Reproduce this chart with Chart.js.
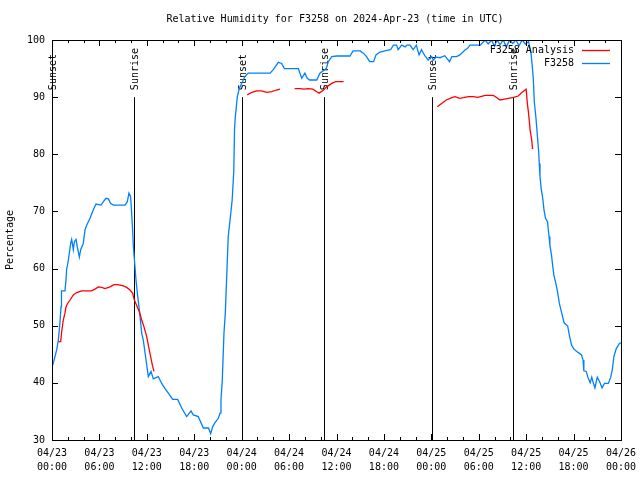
<!DOCTYPE html>
<html>
<head>
<meta charset="utf-8">
<script src="https://cdn.jsdelivr.net/npm/chart.js@4.4.1/dist/chart.umd.min.js"></script>
<style>
  html, body { margin: 0; padding: 0; background: #fff; }
  #wrap { width: 640px; height: 480px; }
</style>
</head>
<body>
<div id="wrap"><canvas id="rh"></canvas></div>
<script>
/* ── Dati (ore dalle 04/23 00:00 UTC) ─────────────── */
var chartTitle = 'Relative Humidity for F3258 on 2024-Apr-23 (time in UTC)';
var yTitle     = 'Percentage';

var tickDates = ['04/23', '04/23', '04/23', '04/23', '04/24', '04/24', '04/24', '04/24',
                 '04/25', '04/25', '04/25', '04/25', '04/26'];
var tickTimes = ['00:00', '06:00', '12:00', '18:00', '00:00', '06:00', '12:00', '18:00',
                 '00:00', '06:00', '12:00', '18:00', '00:00'];

var eventHours  = [0.05, 10.42, 24.08, 34.46, 48.05, 58.38];
var eventLabels = ['Sunset', 'Sunrise', 'Sunset', 'Sunrise', 'Sunset', 'Sunrise'];

var obsLabel = 'F3258';
var obsHours = [0.1, 0.6, 0.8, 1.0, 1.14, 1.2, 1.64, 1.77, 1.85, 2.07, 2.36, 2.49, 2.7, 2.83, 3.04, 3.2,
  3.46, 3.63, 3.96, 4.18, 4.39, 4.81, 5.23, 5.57, 6.2, 6.5, 6.83, 7.13, 7.43, 7.76, 9.24, 9.53,
  9.74, 9.95, 10.08, 10.2, 10.3, 10.5, 10.63, 10.8, 11.1, 11.35, 11.55, 11.9, 12.19, 12.53, 12.82,
  13.45, 13.88, 14.3, 14.72, 15.27, 15.9, 16.41, 17.04, 17.59, 17.88, 18.5, 19.15, 19.8, 20.08,
  20.33, 20.6, 21.05, 21.26, 21.38, 21.55, 21.76, 21.93, 22.3, 22.6, 22.8, 23.0, 23.1, 23.2, 23.45,
  23.7, 24.0, 24.4, 24.84, 27.6, 28.0, 28.64, 29.06, 29.4, 31.17, 31.6, 32.0, 32.3, 32.6, 33.5,
  33.9, 34.7, 34.96, 35.4, 36.0, 37.7, 38.1, 39.0, 39.4, 39.8, 40.2, 40.7, 41.0, 41.5, 42.35,
  42.85, 43.2, 43.6, 43.8, 44.25, 44.7, 44.9, 45.3, 45.7, 46.1, 46.45, 46.75, 47.2, 47.6, 48.05,
  48.25, 48.6, 49.1, 49.7, 50.3, 50.6, 51.2, 51.6, 52.3, 52.55, 52.9, 54.2, 54.8, 55.2, 55.6,
  56.0, 56.3, 56.7, 57.1, 57.5, 57.9, 58.3, 58.7, 59.1, 59.5, 59.9, 60.3, 60.6, 60.8, 60.9, 61.03,
  61.24, 61.41, 61.58, 61.66, 61.75, 61.9, 62.1, 62.25, 62.45, 62.7, 62.8, 62.9, 63.0, 63.2, 63.35,
  63.5, 63.7, 63.9, 64.1, 64.2, 64.5, 64.8, 65.25, 65.5, 65.75, 66.05, 66.4, 66.7, 67.0, 67.2,
  67.3, 67.6, 67.8, 68.1, 68.3, 68.45, 68.7, 69.0, 69.3, 69.6, 69.9, 70.4, 70.7, 70.9, 71.1,
  71.4, 71.8, 72.0];
var obsValues = [43.1, 45.8, 47.5, 50.4, 53.3, 56.1, 56.1, 58, 59.8, 61.5, 64.4, 65.1, 63.3, 64.7, 65.1, 63.8,
  62, 63.3, 64.4, 66.8, 67.6, 68.8, 70.3, 71.3, 71.1, 71.7, 72.3, 72.2, 71.4, 71.1, 71.1, 71.7,
  73.2, 72.6, 69.7, 66.8, 63.8, 60.3, 58, 55.7, 52.2, 48.7, 47.5, 44, 41.1, 42, 40.7,
  41.1, 39.9, 39, 38.2, 37.1, 37.1, 35.6, 34.1, 35.1, 34.4, 34.1, 32.1, 32.1, 31.1,
  32.3, 33, 33.8, 34.7, 37, 40.5, 48.7, 52.2, 65.6, 69.4, 72, 77, 84.5, 86.6, 90.1,
  91.5, 92.4, 93.6, 94.2, 94.2, 94.8, 96.1, 95.9, 95, 95, 93.3, 94.2, 93.3, 93, 93,
  94.2, 95, 96.2, 97.1, 97.2, 97.2, 98.1, 98.1, 97.7, 97.1, 96.2, 96.2, 97.4, 97.9, 98.2,
  98.3, 99.1, 99.1, 98.3, 99.1, 98.8, 99.1, 99.1, 98.3, 99.1, 97.4, 98.3, 97.2, 96.5, 97.1,
  96.5, 97.0, 96.9, 97.25, 96.2, 97.1, 97.1, 97.4, 98.3, 98.5, 99.1, 99.1, 100, 99.3, 100,
  98.9, 100, 99.2, 100, 98.8, 100, 99.4, 100, 99, 100, 99.3, 99.7, 97.9, 95, 93.3, 89.2,
  86.3, 83.4, 80.5, 78.4, 76.1, 74, 72.3, 70.3, 68.8, 68.2, 66.8, 65.6, 64.1, 62.4, 60.6,
  58.9, 57.7, 56.5, 54.8, 53.9, 52.2, 50.5, 49.95, 48.1, 46.6, 45.9, 45.5, 45.2, 44.9, 44,
  42.1, 42, 41, 40, 41, 40.2, 39.1, 41, 40.2, 39.1, 39.9, 39.9, 41, 42.3, 44.6,
  46, 46.9, 47];

/* null = buco nella serie di analisi */
var anaLabel = 'F3258 Analysis';
var anaHours = [0.8, 1.1, 1.2, 1.43, 1.64, 1.77, 1.94, 2.28, 2.7, 3.12, 3.75, 5.0, 5.44, 5.86, 6.28, 6.7,
  7.34, 7.84, 8.27, 8.94, 9.45, 9.87, 10.2, 10.4, 10.7, 11.05, 11.35, 11.64, 11.98, 12.31, 12.7, 12.9,
  18.0,
  24.7, 25.3, 25.9, 26.5, 27.2, 27.8, 28.4, 28.85,
  29.8,
  30.7, 31.4, 31.9, 32.4, 33.0, 33.5, 33.8, 34.25, 34.75, 35.4, 35.9, 36.9,
  42.0,
  48.75, 49.3, 49.9, 50.6, 51.0, 51.6, 52.05, 52.7, 53.3, 53.9, 54.8, 55.85, 56.3, 56.7, 57.1,
  57.75, 58.4, 59.0, 59.45, 60.0, 60.15, 60.3, 60.5, 60.7, 60.8, 60.9];
var anaValues = [47.2, 47.2, 48.7, 51, 52.2, 53.3, 53.8, 54.5, 55.4, 55.8, 56.1, 56.1, 56.4, 56.8, 56.7, 56.5,
  56.8, 57.2, 57.2, 57, 56.7, 56.25, 55.7, 54.6, 53.6, 52.45, 51, 49.8, 48.1, 45.75, 43.1, 42,
  null,
  90.4, 90.85, 91.1, 91.1, 90.85, 90.95, 91.25, 91.4,
  null,
  91.5, 91.5, 91.4, 91.5, 91.4, 90.95, 90.7, 91.1, 91.8, 92.4, 92.7, 92.7,
  null,
  88.3, 88.9, 89.5, 89.9, 90.1, 89.8, 89.9, 90.1, 90.1, 89.95, 90.3, 90.3, 89.9, 89.5, 89.6,
  89.8, 89.95, 90.2, 90.8, 91.4, 88.9, 87.2, 84.25, 82.5, 81.05, 81.05];

var obsColor = 'rgb(0,128,255)';
var anaColor = 'rgb(255,0,0)';
var FONT = '10px "DejaVu Sans Mono", "Liberation Mono", monospace';

function toPoints(hours, values) {
  return hours.map(function(h, i) { return { x: h, y: values[i] }; });
}

/* ── Cornice, tacche interne, alba/tramonto, legenda, titolo ── */
var gnuplotDecor = {
  id: 'gnuplotDecor',
  beforeDatasetsDraw: function(chart) {
    var ctx = chart.ctx;
    var xs = chart.scales.x, ys = chart.scales.y;
    ctx.save();
    ctx.strokeStyle = '#000';
    ctx.lineWidth = 1;
    ctx.fillStyle = '#000';
    ctx.font = FONT;
    eventHours.forEach(function(h, i) {
      var px = Math.round(xs.getPixelForValue(h)) + 0.5;
      var top = ys.getPixelForValue(90);
      ctx.beginPath();
      ctx.moveTo(px, top);
      ctx.lineTo(px, ys.getPixelForValue(30));
      ctx.stroke();
      ctx.save();
      ctx.translate(px + 1, top - 7);
      ctx.rotate(-Math.PI / 2);
      ctx.textAlign = 'left';
      ctx.textBaseline = 'middle';
      ctx.fillText(eventLabels[i], 0, 0);
      ctx.restore();
    });
    ctx.restore();
  },
  afterDatasetsDraw: function(chart) {
    var ctx = chart.ctx, a = chart.chartArea;
    var xs = chart.scales.x, ys = chart.scales.y;
    ctx.save();
    ctx.strokeStyle = '#000';
    ctx.lineWidth = 1;

    // cornice
    ctx.strokeRect(Math.round(a.left) + 0.5, Math.round(a.top) + 0.5,
                   Math.round(a.right - a.left), Math.round(a.bottom - a.top));

    // tacche asse x (maggiori ogni 6 ore)
    ctx.beginPath();
    xs.ticks.forEach(function(t) {
      var px = Math.round(xs.getPixelForValue(t.value)) + 0.5;
      var len = (t.value % 6 === 0) ? 6 : 3;
      ctx.moveTo(px, a.bottom); ctx.lineTo(px, a.bottom - len);
      ctx.moveTo(px, a.top);    ctx.lineTo(px, a.top + len);
    });
    // tacche asse y
    ys.ticks.forEach(function(t) {
      var py = Math.round(ys.getPixelForValue(t.value)) + 0.5;
      ctx.moveTo(a.left, py);  ctx.lineTo(a.left + 6, py);
      ctx.moveTo(a.right, py); ctx.lineTo(a.right - 6, py);
    });
    ctx.stroke();

    // legenda
    ctx.font = FONT;
    ctx.fillStyle = '#000';
    ctx.textAlign = 'right';
    ctx.textBaseline = 'middle';
    [[anaLabel, anaColor, 50], [obsLabel, obsColor, 63]].forEach(function(e) {
      ctx.fillText(e[0], 574, e[2]);
      ctx.strokeStyle = e[1];
      ctx.lineWidth = 1.3;
      ctx.beginPath();
      ctx.moveTo(582, e[2] + 0.5);
      ctx.lineTo(610, e[2] + 0.5);
      ctx.stroke();
    });

    // titolo
    ctx.textAlign = 'center';
    ctx.fillText(chartTitle, 335, 19);
    ctx.restore();
  }
};

new Chart(document.getElementById('rh'), {
  type: 'line',
  data: {
    datasets: [
      {
        label: anaLabel,
        data: toPoints(anaHours, anaValues),
        borderColor: anaColor,
        borderWidth: 1.3,
        pointRadius: 0,
        spanGaps: false,
        tension: 0,
      },
      {
        label: obsLabel,
        data: toPoints(obsHours, obsValues),
        borderColor: obsColor,
        borderWidth: 1.3,
        pointRadius: 0,
        tension: 0,
      },
    ],
  },
  options: {
    responsive: true,
    maintainAspectRatio: false,
    animation: false,
    layout: { padding: { top: 40, right: 19, left: 0, bottom: 0 } },
    plugins: { legend: { display: false }, tooltip: { enabled: false }, title: { display: false } },
    scales: {
      x: {
        type: 'linear',
        min: 0,
        max: 72,
        afterFit: function(s) { s.height = 40; s.paddingRight = 0; s.paddingLeft = 0; },
        grid: { display: false, drawTicks: false },
        border: { display: false },
        ticks: {
          stepSize: 2,
          autoSkip: false,
          maxRotation: 0,
          padding: 7,
          color: '#000',
          font: { family: '"DejaVu Sans Mono", monospace', size: 10, lineHeight: 1.35 },
          callback: function(v) {
            if (v % 6 !== 0) return '';
            var i = v / 6;
            return [tickDates[i], tickTimes[i]];
          },
        },
      },
      y: {
        min: 30,
        max: 100,
        afterFit: function(s) { s.width = 52; },
        grid: { display: false, drawTicks: false },
        border: { display: false },
        title: {
          display: true,
          text: yTitle,
          color: '#000',
          padding: { top: 4, bottom: 0 },
          font: { family: '"DejaVu Sans Mono", monospace', size: 10 },
        },
        ticks: {
          stepSize: 10,
          padding: 7,
          color: '#000',
          font: { family: '"DejaVu Sans Mono", monospace', size: 10 },
        },
      },
    },
  },
  plugins: [gnuplotDecor],
});
</script>
</body>
</html>
